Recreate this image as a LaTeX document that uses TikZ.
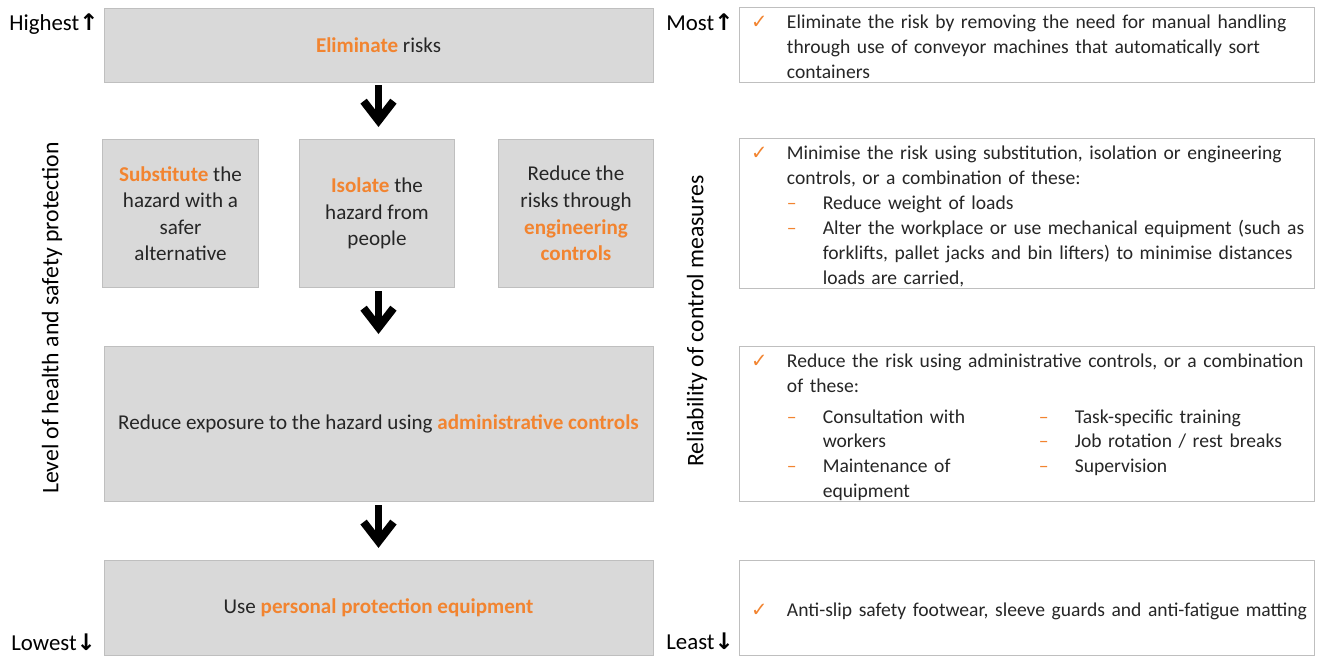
\documentclass[tikz,border=0pt]{standalone}
\usepackage{fontspec}
\setmainfont{Carlito}
\newfontfamily\symfont{DejaVu Sans}
\usetikzlibrary{positioning,arrows.meta}

\definecolor{hiorange}{RGB}{242,132,48}
\definecolor{boxfill}{RGB}{217,217,217}
\definecolor{boxline}{RGB}{191,191,191}
\definecolor{txtgrey}{RGB}{38,38,38}

% one unit of the grid, so widths can be given in the same numbers as coordinates
\newdimen\pu \pu=0.5669pt

\newcommand\hl[1]{\textcolor{hiorange}{\bfseries #1}}
\newcommand\chk{\textcolor{hiorange}{\symfont ✓}}
\newcommand\dsh{\textcolor{hiorange}{–}}
\newcommand\upar{{\fontsize{13}{15}\symfont\bfseries ↑}}
\newcommand\dnar{{\fontsize{13}{15}\symfont\bfseries ↓}}
\newcommand\listfont{\fontsize{11.15}{14.17}\selectfont}
\newcommand\fullrow[1]{\multicolumn{#1}{@{}l@{}}}
% list text sits a little low in its frame
\newcommand\lowered[1]{\raisebox{-3.5\pu}[\height][\depth]{#1}}

\begin{document}
\begin{tikzpicture}[x=0.02cm, y=-0.02cm,
    level/.style={draw=boxline, fill=boxfill, text=txtgrey, inner sep=0pt,
      align=center, font=\fontsize{12}{15.1}\selectfont},
    wide/.style={level, minimum width=551\pu},
    narrow/.style={level, minimum width=156\pu, minimum height=149\pu},
    measure/.style={draw=boxline, fill=white, text=txtgrey, inner sep=0pt,
      text width=577\pu, align=left, font=\listfont},
    tag/.style={inner sep=0pt, anchor=base west, font=\fontsize{13}{15}\selectfont},
    axis/.style={rotate=90, inner sep=0pt, font=\fontsize{13.5}{16}\selectfont},
    down/.style={line width=8\pu, -{Straight Barb[length=11pt, width=17pt, sharp]},
      shorten <=3\pu, shorten >=12\pu}]
  \useasboundingbox (0,0) rectangle (1317,657);
%
  % hierarchy of controls
  \node[wide, minimum height=74\pu] (elim) at (378.5,45) {\hl{Eliminate} risks};
  \node[narrow] (subst) at (180.5,213.5) {\hl{Substitute} the\\hazard with a\\safer\\alternative};
  \node[narrow] (iso) at (377,213.5) {\hl{Isolate} the\\hazard from\\people};
  \node[narrow] (eng) at (576,213.5) {Reduce the\\risks through\\\hl{engineering}\\\hl{controls}};
  \node[wide, minimum height=156\pu] (admin) at (378.5,424)
    {Reduce exposure to the hazard using \hl{administrative controls}};
  \node[wide, minimum height=96\pu] (ppe) at (378.5,608)
    {Use \hl{personal protection equipment}};
%
  \draw[down] (elim.south) -- (elim.south |- iso.north);
  \draw[down] (admin.north |- iso.south) -- (admin.north);
  \draw[down] (admin.south) -- (ppe.north);
%
  % control measures for each level
  \node[measure, minimum height=74\pu] (mElim) at (1026.5,45) {\lowered{%
    \begin{tabular}{@{\hspace{12\pu}}p{36\pu}@{}l@{}}
      \chk & Eliminate the risk by removing the need for manual handling\\
           & through use of conveyor machines that automatically sort\\
           & containers
    \end{tabular}}};
  \node[measure, minimum height=149\pu] (mEng) at (1026.5,213.5) {\lowered{%
    \begin{tabular}{@{\hspace{12\pu}}p{36\pu}@{}p{36\pu}@{}l@{}}
      \chk & \fullrow{2}{Minimise the risk using substitution, isolation or engineering}\\
           & \fullrow{2}{controls, or a combination of these:}\\
           & \dsh & Reduce weight of loads\\
           & \dsh & Alter the workplace or use mechanical equipment (such as\\
           &      & forklifts, pallet jacks and bin lifters) to minimise distances\\
           &      & loads are carried,
    \end{tabular}}};
  \node[measure, minimum height=156\pu] (mAdmin) at (1026.5,424) {\lowered{%
    \begin{tabular}{@{\hspace{12\pu}}p{36\pu}@{}p{36\pu}@{}p{217\pu}@{}p{36\pu}@{}l@{}}
      \chk & \fullrow{4}{Reduce the risk using administrative controls, or a combination}\\
           & \fullrow{4}{of these:}\\[6\pu]
           & \dsh & Consultation with & \dsh & Task-specific training\\
           &      & workers           & \dsh & Job rotation / rest breaks\\
           & \dsh & Maintenance of    & \dsh & Supervision\\
           &      & equipment         &      &
    \end{tabular}}};
  \node[measure, minimum height=96\pu] (mPpe) at (1026.5,608) {\lowered{%
    \begin{tabular}{@{\hspace{12\pu}}p{36\pu}@{}l@{}}
      \chk & Anti-slip safety footwear, sleeve guards and anti-fatigue matting
    \end{tabular}}};
%
  % scale labels
  \node[tag] (high) at (9,30) {Highest\upar};
  \node[tag] (low) at (11,650) {Lowest\dnar};
  \node[tag] (most) at (666,30) {Most\upar};
  \node[tag] (least) at (666,649) {Least\dnar};
  \node[axis] (level) at (52,318) {Level of health and safety protection};
  \node[axis] (reliab) at (697,321) {Reliability of control measures};
\end{tikzpicture}
\end{document}
